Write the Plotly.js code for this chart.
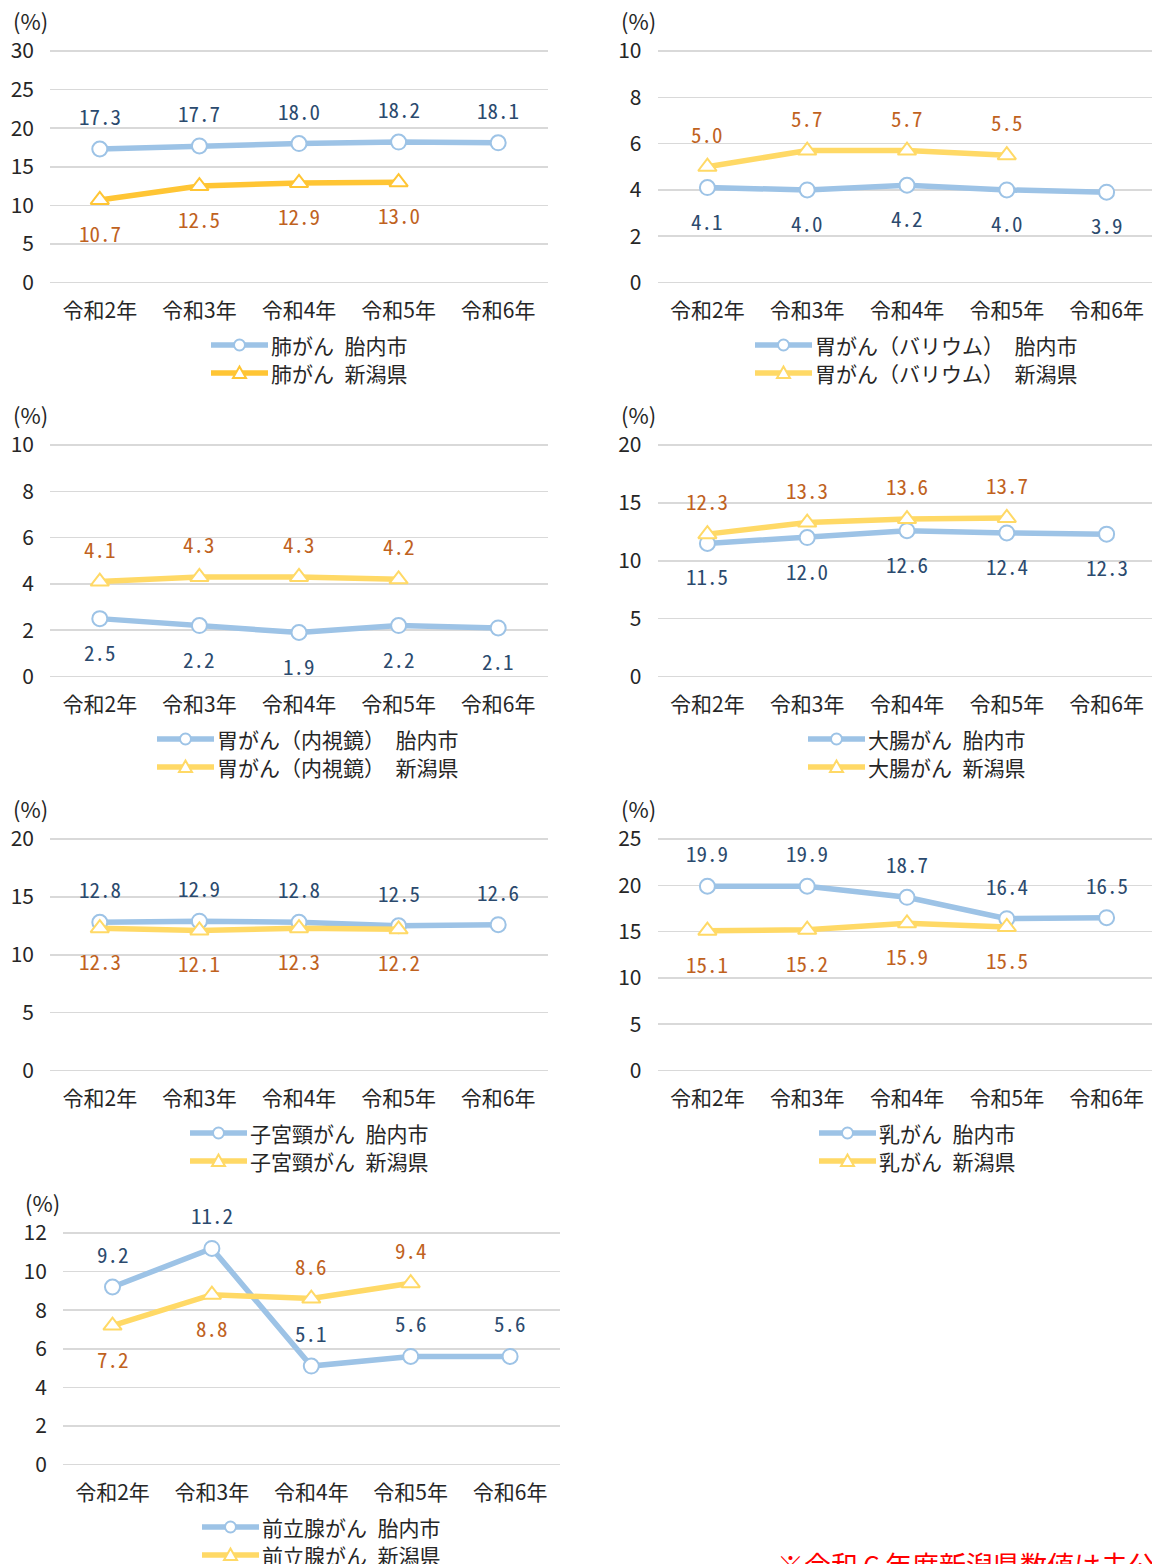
<!DOCTYPE html>
<html>
<head>
<meta charset="utf-8">
<script src="https://cdn.plot.ly/plotly-3.0.1.min.js"></script>
<style>
  html, body { margin: 0; padding: 0; background: #fff; overflow: hidden; }
  #frame { width: 1152px; height: 1564px; overflow: hidden; position: relative; }
  #chart { width: 1200px; height: 1600px; }
</style>
</head>
<body>
<div id="frame"><div id="chart"></div></div>
<script>
// 受診率の推移（%）
const years = ['令和2年', '令和3年', '令和4年', '令和5年', '令和6年'];

const lungCity = [17.3, 17.7, 18.0, 18.2, 18.1];
const lungPref = [10.7, 12.5, 12.9, 13.0, null];

const bariumCity = [4.1, 4.0, 4.2, 4.0, 3.9];
const bariumPref = [5.0, 5.7, 5.7, 5.5, null];

const endoCity = [2.5, 2.2, 1.9, 2.2, 2.1];
const endoPref = [4.1, 4.3, 4.3, 4.2, null];

const colonCity = [11.5, 12.0, 12.6, 12.4, 12.3];
const colonPref = [12.3, 13.3, 13.6, 13.7, null];

const cervixCity = [12.8, 12.9, 12.8, 12.5, 12.6];
const cervixPref = [12.3, 12.1, 12.3, 12.2, null];

const breastCity = [19.9, 19.9, 18.7, 16.4, 16.5];
const breastPref = [15.1, 15.2, 15.9, 15.5, null];

const prostateCity = [9.2, 11.2, 5.1, 5.6, 5.6];
const prostatePref = [7.2, 8.8, 8.6, 9.4, null];

const cancerNames = ['肺がん', '胃がん（バリウム）', '胃がん（内視鏡）', '大腸がん', '子宮頸がん', '乳がん', '前立腺がん'];
const cityName = '胎内市';
const prefName = '新潟県';
const unitLabel = '(%)';
const noteText = '※令和６年度新潟県数値は未公表';

// ---- layout helpers ----
const W = 1200, H = 1600;
const PX = x => x / W;
const PY = y => 1 - y / H;

const BLUE = '#9DC3E6';
const GOLD = '#FFC534';
const YELLOW = '#FFD966';
const CITY_TXT = '#2B4A6E';
const PREF_TXT = '#C0621E';
const INK = '#262626';
const JP = '"Noto Sans CJK JP", "Noto Sans", sans-serif';
const MONO = '"Noto Sans Mono CJK JP", "Noto Sans CJK JP", "Liberation Mono", monospace';
const GAP = '\u2002';

const COLS = { L: [50, 548], R: [657.5, 1156.5], B: [62.8, 559.8] };
const ROW_STEP = 394;
const HEADROOM = 3;   // px above the top gridline so it is not clipped at the axis end

const panels = [
  { city: lungCity,     pref: lungPref,     name: cancerNames[0], col: 'L', row: 0, ymax: 30, dtick: 5, prefColor: GOLD,   cityLbl: 'up',   prefLbl: 'down', legX: 211, unitX: 30 },
  { city: bariumCity,   pref: bariumPref,   name: cancerNames[1], col: 'R', row: 0, ymax: 10, dtick: 2, prefColor: YELLOW, cityLbl: 'down', prefLbl: 'up',   legX: 755, unitX: 638 },
  { city: endoCity,     pref: endoPref,     name: cancerNames[2], col: 'L', row: 1, ymax: 10, dtick: 2, prefColor: YELLOW, cityLbl: 'down', prefLbl: 'up',   legX: 157, unitX: 30 },
  { city: colonCity,    pref: colonPref,    name: cancerNames[3], col: 'R', row: 1, ymax: 20, dtick: 5, prefColor: YELLOW, cityLbl: 'down', prefLbl: 'up',   legX: 808, unitX: 638 },
  { city: cervixCity,   pref: cervixPref,   name: cancerNames[4], col: 'L', row: 2, ymax: 20, dtick: 5, prefColor: YELLOW, cityLbl: 'up',   prefLbl: 'down', legX: 190, unitX: 30 },
  { city: breastCity,   pref: breastPref,   name: cancerNames[5], col: 'R', row: 2, ymax: 25, dtick: 5, prefColor: YELLOW, cityLbl: 'up',   prefLbl: 'down', legX: 819, unitX: 638 },
  { city: prostateCity, pref: prostatePref, name: cancerNames[6], col: 'B', row: 3, ymax: 12, dtick: 2, prefColor: YELLOW,
    cityLbl: ['up', 'up', 'up', 'up', 'up'], prefLbl: ['down', 'down', 'up', 'up'], legX: 202, unitX: 42 }
];

const data = [];
const layout = {
  width: W, height: H,
  margin: { l: 0, r: 0, t: 0, b: 0 },
  paper_bgcolor: '#fff', plot_bgcolor: '#fff',
  showlegend: false,
  font: { family: JP, size: 20, color: INK },
  annotations: [], shapes: []
};

const LABEL_SHIFT = 33;

panels.forEach((p, i) => {
  const n = i + 1;
  const xa = n === 1 ? 'x' : 'x' + n;
  const ya = n === 1 ? 'y' : 'y' + n;
  const top = 51 + ROW_STEP * p.row;
  const bot = 282.5 + ROW_STEP * p.row;
  const [x0, x1] = COLS[p.col];
  const rangeTop = p.ymax * (1 + HEADROOM / (bot - top));

  layout[n === 1 ? 'xaxis' : 'xaxis' + n] = {
    domain: [PX(x0), PX(x1)], anchor: ya,
    type: 'category', range: [-0.5, 4.5], fixedrange: true,
    showgrid: false, zeroline: false, showline: false, ticks: '',
    tickfont: { family: JP, size: 21, color: INK },
    ticklabelstandoff: 13
  };
  layout[n === 1 ? 'yaxis' : 'yaxis' + n] = {
    domain: [PY(bot), PY(top - HEADROOM)], anchor: xa,
    range: [0, rangeTop], dtick: p.dtick, tick0: 0, fixedrange: true,
    showgrid: true, gridcolor: '#D9D9D9', gridwidth: 1.5,
    zeroline: true, zerolinecolor: '#D9D9D9', zerolinewidth: 1.5,
    showline: false, ticks: '',
    tickfont: { family: JP, size: 21, color: INK },
    ticklabelstandoff: 15
  };

  data.push({
    type: 'scatter', mode: 'lines+markers', xaxis: xa, yaxis: ya,
    x: years, y: p.city, name: p.name + GAP + cityName, cliponaxis: false,
    line: { color: BLUE, width: 5.5 },
    marker: { symbol: 'circle', size: 15, color: '#fff', line: { color: BLUE, width: 2 } }
  });
  data.push({
    type: 'scatter', mode: 'lines+markers', xaxis: xa, yaxis: ya,
    x: years, y: p.pref, name: p.name + GAP + prefName, cliponaxis: false,
    line: { color: p.prefColor, width: 5.5 },
    marker: { symbol: 'triangle-up', size: 16, color: '#fff', line: { color: p.prefColor, width: 2 } }
  });

  // value labels
  const addLabels = (vals, where, color) => {
    vals.forEach((v, k) => {
      if (v === null) return;
      const pos = Array.isArray(where) ? where[k] : where;
      layout.annotations.push({
        xref: xa, yref: ya, x: years[k], y: v,
        text: v.toFixed(1), showarrow: false,
        yshift: pos === 'up' ? LABEL_SHIFT : -LABEL_SHIFT,
        xanchor: 'center', yanchor: 'middle',
        font: { family: MONO, size: 21, color: color }
      });
    });
  };
  addLabels(p.city, p.cityLbl, CITY_TXT);
  addLabels(p.pref, p.prefLbl, PREF_TXT);

  // unit label
  layout.annotations.push({
    xref: 'paper', yref: 'paper', x: PX(p.unitX), y: PY(top - 31),
    text: unitLabel, showarrow: false, xanchor: 'center', yanchor: 'middle',
    font: { family: JP, size: 22, color: INK }
  });

  // legend block
  const legLen = 57;
  const rows = [
    { y: top + 294, color: BLUE, sym: 'circle', label: p.name + GAP + cityName },
    { y: top + 322, color: p.prefColor, sym: 'triangle', label: p.name + GAP + prefName }
  ];
  rows.forEach(r => {
    layout.shapes.push({
      type: 'line', xref: 'paper', yref: 'paper',
      x0: PX(p.legX), x1: PX(p.legX + legLen), y0: PY(r.y), y1: PY(r.y),
      line: { color: r.color, width: 5.5 }
    });
    const cx = p.legX + legLen / 2;
    if (r.sym === 'circle') {
      layout.shapes.push({
        type: 'circle', xref: 'paper', yref: 'paper',
        x0: PX(cx - 5.5), x1: PX(cx + 5.5), y0: PY(r.y + 5.5), y1: PY(r.y - 5.5),
        fillcolor: '#fff', line: { color: r.color, width: 2 }
      });
    } else {
      const path = 'M' + PX(cx) + ',' + PY(r.y - 6.5) +
        ' L' + PX(cx - 6.5) + ',' + PY(r.y + 5) +
        ' L' + PX(cx + 6.5) + ',' + PY(r.y + 5) + ' Z';
      layout.shapes.push({
        type: 'path', xref: 'paper', yref: 'paper', path: path,
        fillcolor: '#fff', line: { color: r.color, width: 2 }
      });
    }
    layout.annotations.push({
      xref: 'paper', yref: 'paper', x: PX(p.legX + legLen + 1), y: PY(r.y),
      text: r.label, showarrow: false, xanchor: 'left', yanchor: 'middle',
      font: { family: JP, size: 21, color: INK }
    });
  });
});

// footnote
layout.annotations.push({
  xref: 'paper', yref: 'paper', x: PX(775), y: PY(1564),
  text: noteText, showarrow: false, xanchor: 'left', yanchor: 'middle',
  font: { family: JP, size: 27, color: '#FF0000' }
});

Plotly.newPlot('chart', data, layout, { staticPlot: true, displayModeBar: false });
</script>
</body>
</html>
